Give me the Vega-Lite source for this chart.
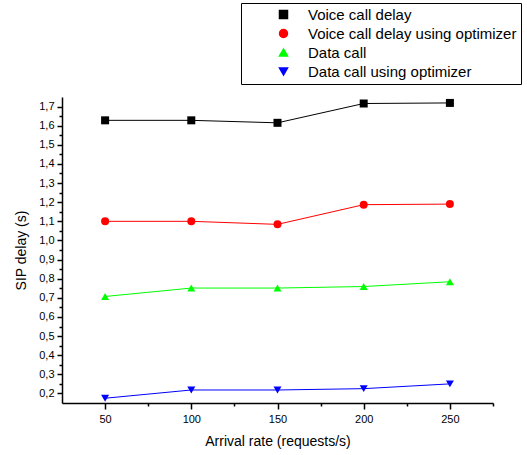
{
  "$schema": "https://vega.github.io/schema/vega-lite/v6.json",
  "width": 431,
  "height": 306,
  "autosize": {"type": "none"},
  "padding": {"left": 62, "top": 97, "right": 34, "bottom": 52},
  "background": "white",
  "config": {
    "view": {"stroke": null},
    "font": "Liberation Sans",
    "axis": {
      "grid": false,
      "domainColor": "black",
      "domainWidth": 1.5,
      "tickColor": "black",
      "tickWidth": 1.5,
      "labelColor": "black",
      "titleColor": "black",
      "labelFont": "Liberation Sans",
      "titleFont": "Liberation Sans",
      "titleFontWeight": "normal",
      "labelFontSize": 11,
      "titleFontSize": 14
    },
    "legend": {
      "labelFont": "Liberation Sans",
      "title": null,
      "orient": "none",
      "legendX": 179,
      "legendY": -94,
      "padding": 4,
      "fillColor": "white",
      "strokeColor": "black",
      "symbolSize": 64,
      "symbolOpacity": 1,
      "symbolOffset": 31,
      "labelOffset": 17,
      "labelFontSize": 15,
      "labelColor": "black",
      "labelLimit": 400,
      "rowPadding": 3
    }
  },
  "data": {
    "values": [
      {"rate": 50, "series": "Voice call delay", "delay": 1.628},
      {"rate": 100, "series": "Voice call delay", "delay": 1.628},
      {"rate": 150, "series": "Voice call delay", "delay": 1.615},
      {"rate": 200, "series": "Voice call delay", "delay": 1.716},
      {"rate": 250, "series": "Voice call delay", "delay": 1.719},
      {"rate": 50, "series": "Voice call delay using optimizer", "delay": 1.1},
      {"rate": 100, "series": "Voice call delay using optimizer", "delay": 1.1},
      {"rate": 150, "series": "Voice call delay using optimizer", "delay": 1.084},
      {"rate": 200, "series": "Voice call delay using optimizer", "delay": 1.187},
      {"rate": 250, "series": "Voice call delay using optimizer", "delay": 1.19},
      {"rate": 50, "series": "Data call", "delay": 0.707},
      {"rate": 100, "series": "Data call", "delay": 0.751},
      {"rate": 150, "series": "Data call", "delay": 0.751},
      {"rate": 200, "series": "Data call", "delay": 0.759},
      {"rate": 250, "series": "Data call", "delay": 0.784},
      {"rate": 50, "series": "Data call using optimizer", "delay": 0.175},
      {"rate": 100, "series": "Data call using optimizer", "delay": 0.218},
      {"rate": 150, "series": "Data call using optimizer", "delay": 0.218},
      {"rate": 200, "series": "Data call using optimizer", "delay": 0.225},
      {"rate": 250, "series": "Data call using optimizer", "delay": 0.25}
    ]
  },
  "encoding": {
    "color": {
      "field": "series", "type": "nominal",
      "scale": {
        "domain": ["Voice call delay", "Voice call delay using optimizer", "Data call", "Data call using optimizer"],
        "range": ["#000000", "#FF0000", "#00FF00", "#0000FF"]
      }
    }
  },
  "layer": [
    {
      "mark": {"type": "line", "strokeWidth": 1},
      "encoding": {
        "x": {
          "field": "rate", "type": "quantitative",
          "scale": {"domain": [25, 275], "nice": false, "zero": false},
          "axis": {
            "orient": "bottom",
            "values": [50, 100, 150, 200, 250],
            "tickSize": 6,
            "labelPadding": 4,
            "title": "Arrival rate (requests/s)",
            "titlePadding": 10
          }
        },
        "y": {
          "field": "delay", "type": "quantitative",
          "scale": {"domain": [0.15, 1.75], "nice": false, "zero": false},
          "axis": {
            "orient": "left",
            "values": [0.2, 0.3, 0.4, 0.5, 0.6, 0.7, 0.8, 0.9, 1.0, 1.1, 1.2, 1.3, 1.4, 1.5, 1.6, 1.7],
            "labelExpr": "replace(format(datum.value, '.1f'), '.', ',')",
            "tickSize": 5,
            "labelPadding": 3,
            "title": "SIP delay (s)",
            "titlePadding": 10
          }
        }
      }
    },
    {
      "mark": {"type": "point", "filled": true, "size": 64, "opacity": 1},
      "encoding": {
        "x": {
          "field": "rate", "type": "quantitative",
          "axis": {"orient": "bottom", "values": [75, 125, 175, 225, 275], "labels": false, "domain": false, "tickSize": 3, "title": null}
        },
        "y": {
          "field": "delay", "type": "quantitative",
          "axis": {"orient": "left", "values": [0.25, 0.35, 0.45, 0.55, 0.65, 0.75, 0.85, 0.95, 1.05, 1.15, 1.25, 1.35, 1.45, 1.55, 1.65], "labels": false, "domain": false, "tickSize": 3, "title": null}
        },
        "shape": {
          "field": "series", "type": "nominal",
          "scale": {
            "domain": ["Voice call delay", "Voice call delay using optimizer", "Data call", "Data call using optimizer"],
            "range": ["square", "circle", "triangle-up", "triangle-down"]
          }
        }
      }
    }
  ],
  "resolve": {
    "axis": {"x": "independent", "y": "independent"}
  }
}
